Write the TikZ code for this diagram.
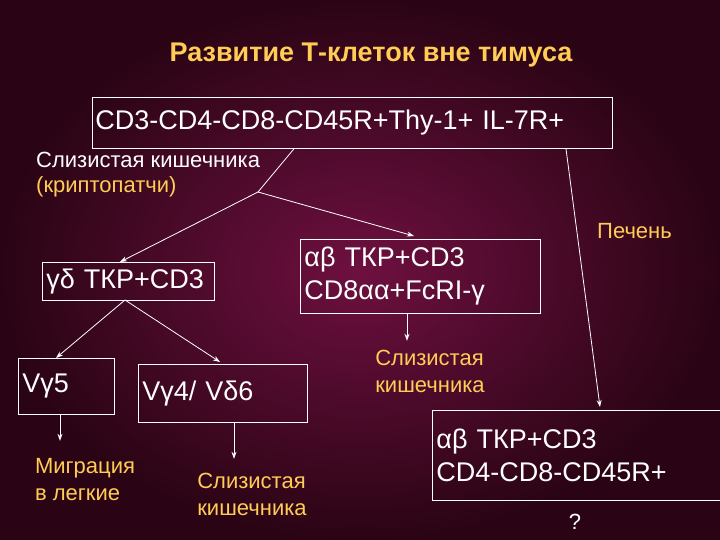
\documentclass[tikz,border=0pt]{standalone}
\usepackage{fontspec}
\setmainfont{Liberation Sans}
\usetikzlibrary{arrows.meta}
\definecolor{bgA}{HTML}{6E1040}
\definecolor{bgB}{HTML}{2A0414}
\definecolor{ylw}{HTML}{FFCC55}
\tikzset{
 box/.style={draw=white,line width=0.8pt,text=white,font=\fontsize{27}{29}\selectfont,inner sep=0pt,anchor=north west},
 lab/.style={text=ylw,font=\fontsize{22}{27}\selectfont,align=left,inner sep=0pt},
 conn/.style={draw=white,line width=0.8pt},
 arr/.style={conn,-{Stealth[length=7pt,width=5pt]}}
}
\begin{document}
\begin{tikzpicture}[x=1pt,y=-1pt]
\useasboundingbox (0,0) rectangle (720,540);
\shade[inner color=bgA,outer color=bgB] (0,0) rectangle (720,540);
\node[text=ylw,font=\bfseries\fontsize{27}{30}\selectfont] (title) at (371,55) {Развитие Т-клеток вне тимуса};
\node[box,minimum width=520pt,minimum height=51pt,text width=514pt,align=left,inner xsep=3pt] (top) at (92,97) {CD3-CD4-CD8-CD45R+Thy-1+ IL-7R+};
\node[lab,anchor=west,text=white] (muc) at (36,160) {Слизистая кишечника};
\node[lab,anchor=west] (crypt) at (36,187) {(криптопатчи)};
\node[lab,anchor=east] (liver) at (672,231) {Печень};
\node[box,minimum width=172pt,minimum height=38pt,text width=164pt,align=left,inner xsep=4pt] (gd) at (42,262) {γδ ТКР+CD3};
\node[box,minimum width=240pt,minimum height=74pt,text width=232pt,align=left,inner xsep=4pt,font=\fontsize{27}{33}\selectfont] (ab) at (300,239) {αβ ТКР+CD3\\CD8αα+FcRI-γ};
\node[box,minimum width=96pt,minimum height=56pt,text width=88pt,align=left,inner xsep=4pt] (v5) at (18,358) {Vγ5};
\node[box,minimum width=169pt,minimum height=58pt,text width=161pt,align=left,inner xsep=4pt] (v4) at (138,364) {Vγ4/ Vδ6};
\node[box,minimum width=288pt,minimum height=90pt,text width=280pt,align=left,inner xsep=4pt,font=\fontsize{27}{33}\selectfont] (br) at (432,410) {αβ ТКР+CD3\\CD4-CD8-CD45R+};
\node[lab,align=left] (muc2) at (430,371) {Слизистая\\кишечника};
\node[lab] (mig) at (85,480) {Миграция\\в легкие};
\node[lab] (muc3) at (252,494) {Слизистая\\кишечника};
\node[lab,text=white] (q) at (575,522) {?};
\coordinate (split) at (258,192);
\coordinate (gdsplit) at (125,300);
\draw[conn] (top.south west) ++(202,0) coordinate (t1) (t1) -- (split);
\draw[arr] (split) -- (120,262);
\draw[arr] (split) -- (414,236);
\draw[arr] (gdsplit) -- (56,358);
\draw[arr] (gdsplit) -- (220,362);
\draw[arr] (v5.south west) ++(42,0) coordinate (v5b) (v5b) -- ++(0,26);
\draw[arr] (v4.south west) ++(96,0) coordinate (v4b) (v4b) -- ++(0,36);
\draw[arr] (ab.south west) ++(107,0) coordinate (abb) (abb) -- ++(0,27);
\draw[arr] (top.south west) ++(474,0) coordinate (t2) (t2) -- (600,407);
\end{tikzpicture}
\end{document}
